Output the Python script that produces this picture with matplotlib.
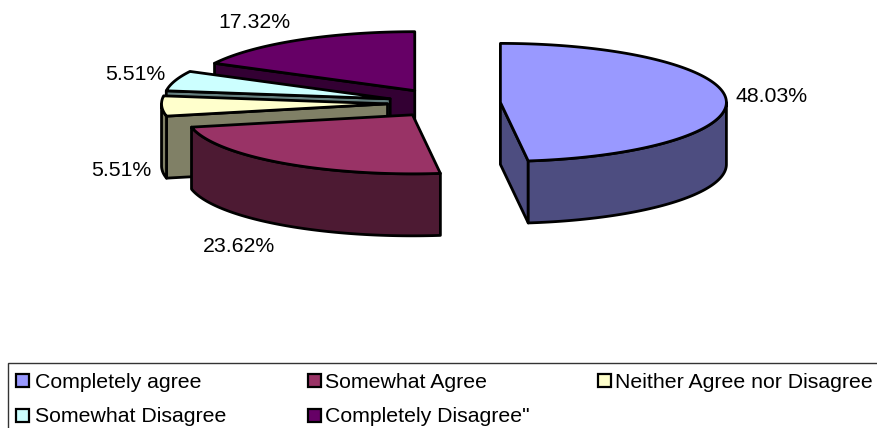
import numpy as np
import matplotlib
matplotlib.use("Agg")
import matplotlib.pyplot as plt
from matplotlib.patches import Polygon, Rectangle

plt.rcParams['font.family'] = ['Liberation Sans', 'DejaVu Sans']

# Survey answers, in drawing order clockwise from twelve o'clock
categories = ['Completely agree', 'Somewhat Agree', 'Neither Agree nor Disagree',
              'Somewhat Disagree', 'Completely Disagree"']
shares = [48.03, 23.62, 5.51, 5.51, 17.32]
top_colors = ['#9999FF', '#993366', '#FFFFCC', '#CCFFFF', '#660066']
side_colors = ['#4D4D80', '#4D1A33', '#808066', '#668080', '#330033']

# Pie geometry in pixels
CX, CY = 444, 103.3
RX, RY = 226, 59
DEPTH = 62
EXPLODE = [0.25, 0.24, 0.25, 0.25, 0.25]
LW = 2.0
FONT_SIZE = 15.3

# Where each percentage label sits (centre x, baseline y)
label_pos = [(772, 102), (239, 252), (121, 176), (135, 80), (254, 28)]


def rim(ax0, ay0, angle):
    """Point(s) on the ellipse rim, angle in degrees clockwise from the top."""
    a = np.radians(angle)
    return ax0 + RX * np.sin(a), ay0 - RY * np.cos(a)


def draw_slice(ax, start, end, explode, top, side):
    mid = np.radians((start + end) / 2)
    ax0 = CX + explode * RX * np.sin(mid)
    ay0 = CY - explode * RY * np.cos(mid)

    # flat cut faces that turn towards the viewer
    faces = []
    if 180 < start < 360:
        faces.append(start)
    if 0 < end < 180:
        faces.append(end)
    for ang in faces:
        px, py = rim(ax0, ay0, ang)
        pts = [(ax0, ay0), (px, py), (px, py + DEPTH), (ax0, ay0 + DEPTH)]
        ax.add_patch(Polygon(pts, closed=True, fc=side, ec='black', lw=LW, joinstyle='round'))

    # outer wall, only the front half of the ellipse shows
    w0, w1 = max(start, 90), min(end, 270)
    if w1 > w0:
        t = np.linspace(w0, w1, 80)
        x, y = rim(ax0, ay0, t)
        pts = np.r_[np.c_[x, y], np.c_[x, y + DEPTH][::-1]]
        ax.add_patch(Polygon(pts, closed=True, fc=side, ec='black', lw=LW, joinstyle='round'))

    # top surface
    t = np.linspace(start, end, 160)
    x, y = rim(ax0, ay0, t)
    pts = np.r_[[(ax0, ay0)], np.c_[x, y]]
    ax.add_patch(Polygon(pts, closed=True, fc=top, ec='black', lw=LW, joinstyle='round'))


fig = plt.figure(figsize=(8.78, 4.28), dpi=100)
ax = fig.add_axes([0, 0, 1, 1])
ax.set_xlim(0, 878)
ax.set_ylim(428, 0)
ax.axis('off')

edges = np.r_[0, np.cumsum(shares)] / np.sum(shares) * 360

# back slices first so the front ones overlap them
for i in [4, 3, 2, 1, 0]:
    draw_slice(ax, edges[i], edges[i + 1], EXPLODE[i], top_colors[i], side_colors[i])

for share, (lx, ly) in zip(shares, label_pos):
    ax.text(lx, ly, f'{share:.2f}%', ha='center', va='baseline', fontsize=FONT_SIZE, color='black')

# legend box runs off the right and bottom of the canvas
ax.add_patch(Rectangle((8.5, 363), 900, 100, fc='white', ec='#333333', lw=1.0))
legend_marks = [(23, 380.5), (315, 380.5), (604.5, 380.5), (23, 415), (315, 415)]
legend_text_x = [35, 325, 615, 35, 325]
legend_base_y = [388, 388, 388, 421.5, 421.5]
for name, color, (mx, my), tx, ty in zip(categories, top_colors, legend_marks, legend_text_x, legend_base_y):
    ax.add_patch(Rectangle((mx - 6.5, my - 6.5), 13, 13, fc=color, ec='black', lw=1.6))
    ax.text(tx, ty, name, ha='left', va='baseline', fontsize=FONT_SIZE, color='black')

fig.savefig('out.png', dpi=100)
